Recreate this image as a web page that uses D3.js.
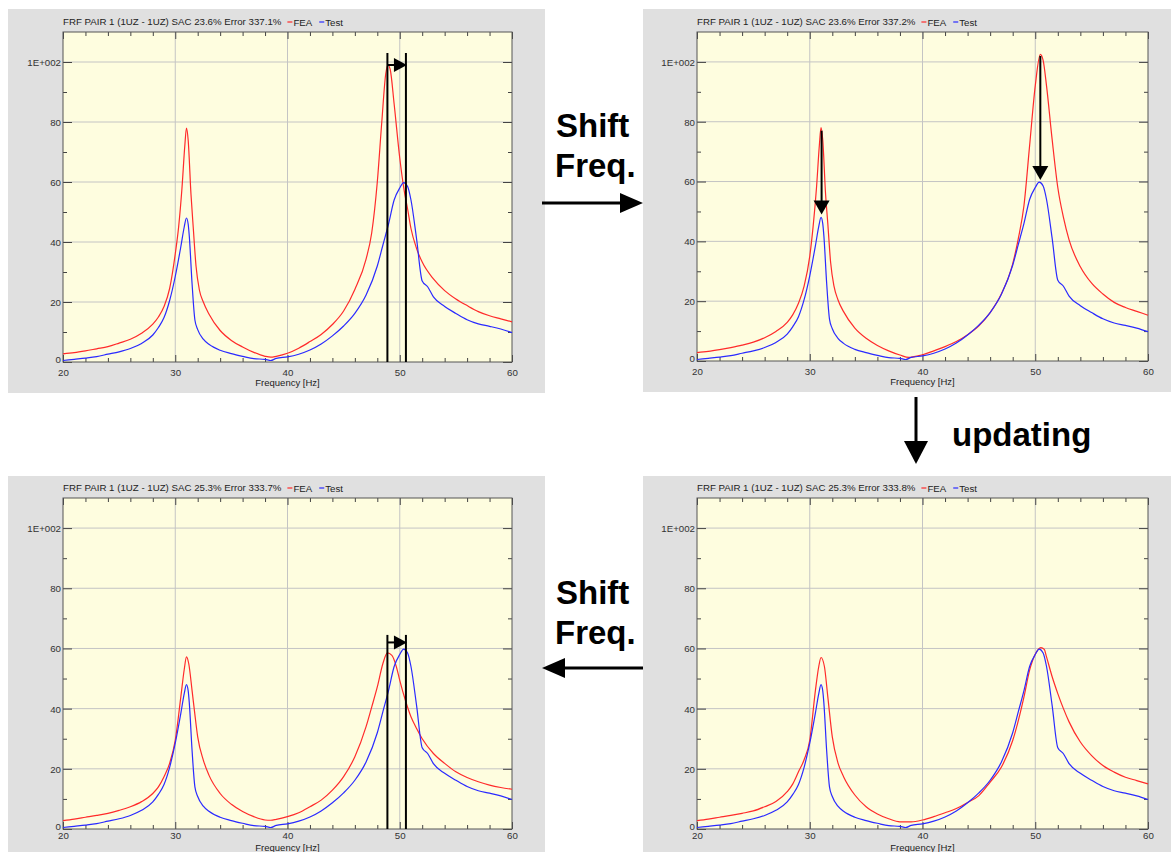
<!DOCTYPE html>
<html>
<head>
<meta charset="UTF-8">
<title>FRF pair 1 - shift freq / updating</title>
<script src="https://d3js.org/d3.v7.min.js"></script>
<style>
  body, html { margin: 0; padding: 0; background: #fff; }
  svg { display: block; font-family: "Liberation Sans", Arial, sans-serif; }
  .tick text { font-size: 9.7px; fill: #333; }
  .tick line { stroke: #444; }
  .big { font-size: 33px; font-weight: bold; fill: #000; }
</style>
</head>
<body>
<svg id="chart" width="1171" height="852"></svg>
<script>
// axis ticks
const freqTicks = [20, 30, 40, 50, 60];
const valueTicks = [0, 20, 40, 60, 80, 100];
const freqGrid = [30, 40, 50];
const valueGrid = [20, 40, 60, 80, 100];

// measured FRF (same in every panel) : [Hz, amplitude]
const testData = [[20,0.5],[21,0.9],[22,1.3],[23,1.8],[24,2.6],[25,3.4],[26,4.5],[27,6.2],[28,9],[28.5,11.5],
  [29,14.8],[29.5,20.5],[30,28.5],[30.5,38.5],[30.8,45],[31,48],[31.15,46],[31.25,42],[31.5,26],[31.75,14],
  [32,10.8],[32.5,7.6],[33,5.9],[34,3.9],[35,2.8],[36,1.9],[37,1.1],[38,0.9],[38.5,0.5],[39,1.2],[40,1.7],
  [41,2.6],[42,4],[43,6],[44,8.7],[45,12],[46,16.2],[47,22.3],[48,32],[48.5,39],[49,46],[49.5,54],[50,58],
  [50.35,59.8],[50.7,58.5],[51,54],[51.5,41],[52,27],[52.5,25],[53,21.7],[54,18.5],[55,16.2],[56,14.1],
  [57,12.7],[58,11.9],[59,11],[60,9.8]];

// FEA, original model
const feaOriginal = [[20,2.7],[21,3.1],[22,3.7],[23,4.4],[24,5.1],[25,6.3],[26,7.6],[27,9.6],[28,12.6],[28.5,15],
  [29,18.5],[29.5,24.5],[30,36],[30.3,45],[30.6,58],[30.85,72],[31,78],[31.15,74],[31.4,56],[31.6,45],[31.85,32],
  [32.15,24],[32.5,20],[33,16],[34,10.5],[35,7.2],[36,5],[37,3.2],[38,1.9],[38.5,1.6],[39,1.9],[40,2.9],[41,4.6],
  [42,6.8],[43,9.2],[44,12.5],[45,17],[46,24.2],[47,34.3],[47.5,43],[48,60],[48.4,80],[48.75,96],[48.95,99],
  [49.15,97.5],[49.5,86],[50,68],[50.4,57],[50.7,51],[51,44.5],[51.5,37.8],[52,33.3],[53,27.7],[54,23.8],[55,21],
  [56,18.8],[57,16.8],[58,15.4],[59,14.4],[60,13.4]];

// FEA, original model with frequency shift
const feaShifted = [[20,2.8],[21,3.2],[22,3.8],[23,4.5],[24,5.3],[25,6.3],[26,7.8],[27,9.9],[28,12.9],[28.5,15.5],
  [29,19.3],[29.5,25],[30,35],[30.3,45],[30.6,58],[30.85,72],[31,78],[31.15,74],[31.4,56],[31.6,46],[31.85,33],
  [32.15,25],[32.5,20.5],[33,16.5],[34,11],[35,7.6],[36,5.2],[37,3.4],[38,2],[38.8,1.2],[39,1.3],[40,2.1],[41,3.4],
  [42,4.8],[43,6.5],[44,8.8],[45,11.8],[46,16.2],[47,22.5],[48,32.5],[48.5,41],[49,52],[49.5,72],[50,92],
  [50.45,102.5],[50.7,100.5],[51,92],[51.5,74],[52,58],[52.5,48],[53,40.5],[54,31.5],[55,26],[56,22.4],
  [57,19.6],[58,17.9],[59,16.6],[60,15.3]];

// FEA, updated model
const feaUpdated = [[20,2.8],[21,3.3],[22,3.9],[23,4.5],[24,5.2],[25,6.2],[26,7.4],[27,9.1],[28,11.8],[28.5,14],
  [29,17.4],[29.5,21.8],[30,29.5],[30.5,44],[30.8,53],[31,57.2],[31.2,55],[31.5,46],[31.75,38],[32,30.6],
  [32.5,22.9],[33,17.9],[34,11.8],[35,8.2],[36,5.8],[37,4.1],[38,3],[38.5,2.9],[39,3.2],[40,4.1],[41,5.4],
  [42,7.4],[43,9.6],[44,12.9],[45,17.4],[46,24],[47,34],[47.5,40.5],[48,47.2],[48.5,55],[48.9,58.5],[49.3,57.7],
  [49.7,53.9],[50,49.4],[50.5,42.8],[51,37.3],[51.5,33.4],[52,30],[53,25.1],[54,21.8],[55,19],[56,17.1],
  [57,15.7],[58,14.6],[59,13.8],[60,13.2]];

// FEA, updated model with frequency shift
const feaUpdatedShifted = [[20,2.8],[21,3.3],[22,3.9],[23,4.5],[24,5.2],[25,6],[26,7.4],[27,9.1],[28,12.4],[28.5,15],
  [29,19],[29.5,23],[30,29.5],[30.5,46],[30.8,54],[31,57],[31.3,54],[31.6,44],[32,30.6],[32.5,22],[33,17.4],
  [34,11.3],[35,7.4],[36,5],[37,3.4],[38,2.4],[39,2.4],[40,3],[41,4.1],[42,5.4],[43,6.8],[44,8.8],[45,11.1],
  [46,15.6],[47,20.6],[48,29.4],[49,43.9],[49.5,52.8],[50,58.1],[50.5,60.3],[50.8,59.7],[51,57.2],[51.5,50.6],
  [52,45],[52.5,40],[53,35.6],[54,28.9],[55,24.4],[56,21.1],[57,18.9],[58,17.2],[59,16.1],[60,15]];

const titles = [
  "FRF PAIR 1 (1UZ - 1UZ) SAC 23.6% Error 337.1%",
  "FRF PAIR 1 (1UZ - 1UZ) SAC 23.6% Error 337.2%",
  "FRF PAIR 1 (1UZ - 1UZ) SAC 25.3% Error 333.7%",
  "FRF PAIR 1 (1UZ - 1UZ) SAC 25.3% Error 333.8%"
];

// annotations (data units)
const shiftMarks = [48.9, 50.55];
const dropArrows = [{f: 31.05, from: 77, to: 49}, {f: 50.45, from: 102, to: 60.5}];

const svg = d3.select("#chart");

function drawPanel(p) {
  const g = svg.append("g");
  g.append("rect")
    .attr("x", p.bx).attr("y", p.by).attr("width", p.bw).attr("height", p.bh)
    .attr("fill", "#e0e0e0");

  const x = d3.scaleLinear().domain([20, 60]).range([p.x0, p.x1]);
  const y = d3.scaleLinear().domain([0, 110]).range([p.y1, p.y0]);

  g.append("rect")
    .attr("x", p.x0).attr("y", p.y0)
    .attr("width", p.x1 - p.x0).attr("height", p.y1 - p.y0)
    .attr("fill", "#fefddf");

  // grid
  g.selectAll(".vg").data(freqGrid).join("line")
    .attr("x1", d => x(d)).attr("x2", d => x(d))
    .attr("y1", p.y0).attr("y2", p.y1)
    .attr("stroke", "#c4c4c4");
  g.selectAll(".hg").data(valueGrid).join("line")
    .attr("x1", p.x0).attr("x2", p.x1)
    .attr("y1", d => y(d)).attr("y2", d => y(d))
    .attr("stroke", "#c4c4c4");

  const minorY = [10, 30, 50, 70, 90];
  const minorX = d3.range(22, 60, 2).filter(d => d % 10 !== 0);

  const left = g.append("g").attr("transform", `translate(${p.x0},0)`)
    .call(d3.axisLeft(y).tickValues(valueTicks).tickSize(-9).tickPadding(2)
      .tickFormat(d => d === 100 ? "1E+002" : d));
  g.append("g").attr("transform", `translate(${p.x0},0)`)
    .call(d3.axisLeft(y).tickValues(minorY).tickSize(-4).tickFormat(""));
  g.append("g").attr("transform", `translate(${p.x1},0)`)
    .call(d3.axisRight(y).tickValues(valueTicks).tickSize(-9).tickFormat(""));
  g.append("g").attr("transform", `translate(${p.x1},0)`)
    .call(d3.axisRight(y).tickValues(minorY).tickSize(-4).tickFormat(""));
  g.append("g").attr("transform", `translate(0,${p.y1})`)
    .call(d3.axisBottom(x).tickValues(freqTicks).tickSize(-7).tickPadding(p.pad));
  g.append("g").attr("transform", `translate(0,${p.y1})`)
    .call(d3.axisBottom(x).tickValues(minorX).tickSize(-4).tickFormat(""));
  g.append("g").attr("transform", `translate(0,${p.y0})`)
    .call(d3.axisTop(x).tickValues(freqTicks).tickSize(-7).tickFormat(""));
  g.append("g").attr("transform", `translate(0,${p.y0})`)
    .call(d3.axisTop(x).tickValues(minorX).tickSize(-4).tickFormat(""));
  g.selectAll(".domain").remove();
  left.selectAll(".tick text").attr("dy", d => d === 0 ? "0.05em" : "0.35em");

  g.append("rect")
    .attr("x", p.x0).attr("y", p.y0)
    .attr("width", p.x1 - p.x0).attr("height", p.y1 - p.y0)
    .attr("fill", "none").attr("stroke", "#555");

  const line = d3.line().x(d => x(d[0])).y(d => y(d[1])).curve(d3.curveMonotoneX);
  g.append("path").datum(p.fea).attr("d", line)
    .attr("fill", "none").attr("stroke", "#ff2a2a").attr("stroke-width", 1.2);
  g.append("path").datum(testData).attr("d", line)
    .attr("fill", "none").attr("stroke", "#2a2aff").attr("stroke-width", 1.2);

  // title + legend
  const t = g.append("text").attr("x", p.x0).attr("y", p.y0 - 7)
    .attr("font-size", "9.7px").attr("fill", "#222").text(p.title);
  let lx = p.x0 + t.node().getComputedTextLength() + 6;
  [["FEA", "#ff2a2a"], ["Test", "#2a2aff"]].forEach(([name, col]) => {
    g.append("line").attr("x1", lx).attr("x2", lx + 5)
      .attr("y1", p.y0 - 10).attr("y2", p.y0 - 10)
      .attr("stroke", col).attr("stroke-width", 1.2);
    const lt = g.append("text").attr("x", lx + 6).attr("y", p.y0 - 6)
      .attr("font-size", "9.7px").attr("fill", "#222").text(name);
    lx += 6 + lt.node().getComputedTextLength() + 7;
  });

  g.append("text").attr("x", (p.x0 + p.x1) / 2).attr("y", p.labelY)
    .attr("text-anchor", "middle").attr("font-size", "9.5px").attr("fill", "#222")
    .text("Frequency [Hz]");

  // annotations
  if (p.shift) {
    g.selectAll(".mark").data(shiftMarks).join("line")
      .attr("x1", d => x(d)).attr("x2", d => x(d))
      .attr("y1", y(0)).attr("y2", y(p.shift.top))
      .attr("stroke", "#000").attr("stroke-width", 2);
    const ay = y(p.shift.arrow);
    const tip = x(shiftMarks[1]) + 1;
    g.append("line").attr("x1", x(shiftMarks[0])).attr("x2", tip - 10)
      .attr("y1", ay).attr("y2", ay).attr("stroke", "#000").attr("stroke-width", 2);
    g.append("path")
      .attr("d", `M${tip},${ay} L${tip - 13},${ay - 7} L${tip - 13},${ay + 7} Z`)
      .attr("fill", "#000");
  }
  if (p.drops) {
    dropArrows.forEach(a => {
      const ax = x(a.f), y1 = y(a.from), y2 = y(a.to);
      g.append("line").attr("x1", ax).attr("x2", ax).attr("y1", y1).attr("y2", y2 - 10)
        .attr("stroke", "#000").attr("stroke-width", 2);
      g.append("path")
        .attr("d", `M${ax},${y2} L${ax - 8},${y2 - 14} L${ax + 8},${y2 - 14} Z`)
        .attr("fill", "#000");
    });
  }
}

const layout = [
  {bx: 8, by: 9, bw: 537, bh: 384, x0: 63, x1: 512, y0: 32, y1: 362, pad: 7, labelY: 386,
   title: titles[0], fea: feaOriginal, shift: {top: 103, arrow: 99}},
  {bx: 643, by: 9, bw: 528, bh: 383, x0: 697, x1: 1148, y0: 32, y1: 361, pad: 7, labelY: 385,
   title: titles[1], fea: feaShifted, drops: true},
  {bx: 8, by: 476, bw: 537, bh: 376, x0: 63, x1: 512, y0: 498, y1: 829, pad: 3, labelY: 850.5,
   title: titles[2], fea: feaUpdated, shift: {top: 64.5, arrow: 62}},
  {bx: 643, by: 476, bw: 528, bh: 376, x0: 697, x1: 1148, y0: 498, y1: 829, pad: 3, labelY: 850.5,
   title: titles[3], fea: feaUpdatedShifted}
];
layout.forEach(drawPanel);

// workflow arrows and captions
const flow = svg.append("g");
flow.append("text").attr("class", "big").attr("x", 556).attr("y", 137).text("Shift");
flow.append("text").attr("class", "big").attr("x", 555).attr("y", 177).text("Freq.");
flow.append("line").attr("x1", 542).attr("x2", 622).attr("y1", 203).attr("y2", 203)
  .attr("stroke", "#000").attr("stroke-width", 3);
flow.append("path").attr("d", "M643,203 L620,193 L620,213 Z").attr("fill", "#000");

flow.append("line").attr("x1", 916).attr("x2", 916).attr("y1", 397).attr("y2", 443)
  .attr("stroke", "#000").attr("stroke-width", 3);
flow.append("path").attr("d", "M916,464 L904,441 L928,441 Z").attr("fill", "#000");
flow.append("text").attr("class", "big").attr("x", 952).attr("y", 446).text("updating");

flow.append("text").attr("class", "big").attr("x", 556).attr("y", 604).text("Shift");
flow.append("text").attr("class", "big").attr("x", 555).attr("y", 644).text("Freq.");
flow.append("line").attr("x1", 563).attr("x2", 643).attr("y1", 668).attr("y2", 668)
  .attr("stroke", "#000").attr("stroke-width", 3);
flow.append("path").attr("d", "M542,668 L565,658 L565,678 Z").attr("fill", "#000");
</script>
</body>
</html>
